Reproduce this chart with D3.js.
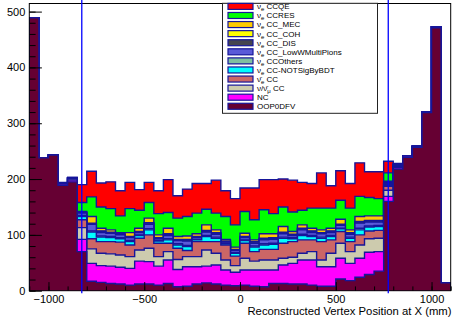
<!DOCTYPE html>
<html lang="en">
<head>
<meta charset="UTF-8">
<title>Reconstructed Vertex Position at X</title>
<script src="https://d3js.org/d3.v7.min.js"></script>
<style>
  body { margin: 0; background: #fff; }
  svg { display: block; font-family: "Liberation Sans", Arial, Helvetica, sans-serif; }
</style>
</head>
<body>
<div id="chart"></div>
<script>
// bin lower edges in mm (bins are 50 mm wide)
const binLow = [-1100, -1050, -1000, -950, -900, -850, -800, -750, -700, -650, -600, -550, -500, -450, -400,
  -350, -300, -250, -200, -150, -100, -50, 0, 50, 100, 150, 200, 250, 300, 350, 400, 450, 500, 550, 600,
  650, 700, 750, 800, 850, 900, 950, 1000, 1050];
const binWidth = 50;

// event counts per bin, one array per category
const ccqe = [0, 0, 0, 1, 0, 32, 46, 43, 48, 45, 47, 37, 36, 41, 59, 40, 49, 53, 46, 59, 46, 47, 42, 57, 54,
  61, 50, 57, 50, 44, 63, 40, 53, 44, 60, 46, 48, 21, 1, 1, 0, 0, 0, 0];
const ccres = [0, 0, 0, 1, 1, 16, 35, 38, 38, 30, 43, 32, 28, 38, 28, 33, 35, 37, 28, 30, 41, 40, 39, 36, 43,
  36, 35, 35, 26, 36, 39, 36, 34, 39, 36, 33, 31, 15, 1, 0, 0, 0, 0, 0];
const ccMec = [0, 0, 0, 0, 0, 2, 12, 5, 4, 2, 7, 6, 8, 5, 10, 5, 6, 5, 10, 5, 3, 4, 6, 3, 8,
  7, 10, 5, 6, 5, 5, 5, 9, 5, 9, 8, 8, 2, 0, 0, 0, 0, 0, 0];
const ccCoh = [0, 0, 0, 0, 0, 0, 1, 1, 1, 1, 1, 1, 1, 1, 1, 1, 1, 1, 1, 1, 1, 1, 1, 1, 1,
  1, 1, 1, 1, 1, 1, 1, 1, 1, 1, 1, 1, 1, 0, 0, 0, 0, 0, 0];
const ccDis = [0, 0, 0, 0, 0, 1, 1, 2, 1, 1, 1, 1, 2, 1, 2, 1, 2, 1, 2, 2, 1, 1, 1, 2, 2,
  2, 2, 1, 2, 2, 1, 2, 1, 2, 2, 2, 2, 1, 0, 0, 0, 0, 0, 0];
const ccLowW = [0, 0, 0, 0, 0, 4, 12, 6, 6, 5, 5, 4, 8, 3, 6, 6, 8, 3, 6, 5, 2, 4, 4, 5, 7,
  7, 6, 4, 8, 5, 6, 5, 5, 5, 9, 7, 6, 2, 1, 0, 0, 0, 0, 0];
const ccOthers = [0, 0, 0, 0, 0, 2, 2, 2, 2, 2, 2, 1, 2, 1, 2, 2, 2, 1, 2, 2, 1, 1, 1, 2, 2,
  2, 2, 2, 2, 2, 2, 2, 1, 2, 3, 2, 2, 1, 0, 0, 0, 0, 0, 0];
const ccNotSig = [0, 0, 0, 0, 1, 6, 12, 8, 7, 6, 6, 5, 9, 4, 6, 6, 7, 3, 9, 6, 2, 5, 5, 8, 8,
  9, 9, 5, 8, 6, 6, 6, 5, 6, 9, 7, 7, 2, 1, 0, 0, 0, 0, 0];
const antiNueCC = [0, 0, 0, 0, 1, 14, 18, 21, 22, 23, 21, 21, 24, 24, 15, 20, 11, 27, 15, 21, 27, 17, 27, 17, 19,
  19, 27, 28, 24, 21, 33, 24, 21, 18, 18, 14, 14, 7, 1, 0, 0, 0, 0, 0];
const numuCC = [0, 0, 0, 1, 2, 21, 26, 22, 22, 22, 21, 20, 24, 17, 15, 18, 18, 18, 29, 21, 18, 12, 21, 16, 18,
  18, 12, 11, 12, 15, 12, 24, 27, 21, 24, 24, 24, 11, 2, 0, 1, 0, 1, 0];
const nc = [0, 0, 0, 2, 3, 22, 32, 30, 31, 30, 30, 41, 40, 34, 42, 31, 35, 31, 30, 34, 27, 24, 27, 29, 30,
  24, 33, 37, 43, 45, 35, 35, 37, 31, 34, 40, 35, 9, 3, 2, 1, 1, 1, 0];
const oop = [489, 238, 243, 189, 195, 70, 17, 15, 13, 12, 10, 12, 12, 10, 13, 7, 8, 12, 14, 12, 10, 9, 10, 8, 7,
  13, 13, 12, 12, 10, 8, 8, 21, 18, 24, 29, 35, 160, 218, 239, 257, 319, 471, 14];

// legend labels, top to bottom
const labels = [
  ["\u03bd", "e", " CCQE"],
  ["\u03bd", "e", " CCRES"],
  ["\u03bd", "e", " CC_MEC"],
  ["\u03bd", "e", " CC_COH"],
  ["\u03bd", "e", " CC_DIS"],
  ["\u03bd", "e", " CC_LowWMultiPions"],
  ["\u03bd", "e", " CCOthers"],
  ["\u03bd", "e", " CC-NOTSigByBDT"],
  ["\u03bd\u0304", "e", " CC"],
  ["\u03bd/\u03bd\u0304", "\u03bc", " CC"],
  ["NC", "", ""],
  ["OOP0DFV", "", ""]
];
const colors = ["#ff0000", "#00ff00", "#ffcc00", "#ffff00", "#45454f", "#5a5ad8",
  "#80c0a0", "#00ffff", "#cc6666", "#cdcbae", "#ff00ff", "#660033"];
const seriesTopDown = [ccqe, ccres, ccMec, ccCoh, ccDis, ccLowW, ccOthers, ccNotSig, antiNueCC, numuCC, nc, oop];

const xTicksMajor = [-1000, -500, 0, 500, 1000];
const yTicksMajor = [0, 100, 200, 300, 400, 500];
const fvLines = [-826, 774];
const xTitle = "Reconstructed Vertex Position at X (mm)";

const W = 453, H = 322;
const svg = d3.select("#chart").append("svg").attr("width", W).attr("height", H);

const x = d3.scaleLinear().domain([-1100, 1100]).range([29.3, 450.7]);
const y = d3.scaleLinear().domain([0, 514.5]).range([290.7, 3.5]);

svg.append("defs").append("clipPath").attr("id", "frame")
  .append("rect").attr("x", x(-1100)).attr("y", y(514.5))
  .attr("width", x(1100) - x(-1100)).attr("height", y(0) - y(514.5));

// cumulative stack, bottom (oop) to top (ccqe)
const bottomUp = seriesTopDown.slice().reverse();
const cum = [];
let run = binLow.map(() => 0);
bottomUp.forEach(s => {
  run = run.map((v, i) => v + s[i]);
  cum.push(run);
});
const cumTopDown = cum.slice().reverse();

const area = d3.area().x(d => x(d[0])).y0(y(0)).y1(d => y(d[1]));
const line = d3.line().x(d => x(d[0])).y(d => y(d[1]));

const g = svg.append("g").attr("clip-path", "url(#frame)");
cumTopDown.forEach((c, k) => {
  const pts = [];
  binLow.forEach((lo, i) => { pts.push([lo, c[i]]); pts.push([lo + binWidth, c[i]]); });
  g.append("path").attr("d", area(pts)).attr("fill", colors[k]);
  const outline = [[binLow[0], 0]].concat(pts, [[binLow[binLow.length - 1] + binWidth, 0]]);
  g.append("path").attr("d", line(outline)).attr("fill", "none")
    .attr("stroke", "#16169a").attr("stroke-width", 1.4);
});

// axes, ticks inside the frame like ROOT
const yMinor = d3.range(0, 515, 20);
const xMinor = d3.range(-1100, 1101, 100);
svg.append("g").attr("transform", `translate(${x(-1100)},0)`)
  .call(d3.axisLeft(y).tickValues(yMinor).tickSize(-6.3).tickFormat(""))
  .call(a => a.select(".domain").remove());
svg.append("g").attr("transform", `translate(${x(-1100)},0)`)
  .call(d3.axisLeft(y).tickValues(yTicksMajor).tickSize(-12.6).tickPadding(4).tickFormat(d3.format("d")))
  .call(a => a.select(".domain").remove())
  .call(a => a.selectAll("text").attr("font-size", 11).attr("fill", "#000"));
svg.append("g").attr("transform", `translate(0,${y(0)})`)
  .call(d3.axisBottom(x).tickValues(xMinor).tickSize(-4.3).tickFormat(""))
  .call(a => a.select(".domain").remove());
svg.append("g").attr("transform", `translate(0,${y(0)})`)
  .call(d3.axisBottom(x).tickValues(xTicksMajor).tickSize(-8.6).tickPadding(4.5).tickFormat(d3.format("d")))
  .call(a => a.select(".domain").remove())
  .call(a => a.selectAll("text").attr("font-size", 11).attr("fill", "#000"));
svg.selectAll(".tick line").attr("stroke", "#000");
svg.selectAll("g").attr("font-family", null);

// frame
svg.append("rect").attr("x", x(-1100)).attr("y", y(514.5))
  .attr("width", x(1100) - x(-1100)).attr("height", y(0) - y(514.5))
  .attr("fill", "none").attr("stroke", "#000").attr("stroke-width", 1);

// fiducial volume lines
fvLines.forEach(v => {
  svg.append("line").attr("x1", x(v)).attr("x2", x(v))
    .attr("y1", y(-4.5)).attr("y2", y(530))
    .attr("stroke", "#0000ff").attr("stroke-width", 1.3);
});

svg.append("text").attr("x", 451.5).attr("y", 315.3).attr("text-anchor", "end")
  .attr("font-size", 11.3).text(xTitle);

// legend
const leg = svg.append("g");
leg.append("rect").attr("x", 222.5).attr("y", 3.3).attr("width", 155).attr("height", 110)
  .attr("fill", "#fff").attr("stroke", "#222").attr("stroke-width", 1);
labels.forEach((lab, i) => {
  const cy = 6.4 + i * 9.08;
  leg.append("rect").attr("x", 228).attr("y", cy - 3).attr("width", 25).attr("height", 6)
    .attr("fill", colors[i]).attr("stroke", "#16169a").attr("stroke-width", 1.2);
  const t = leg.append("text").attr("x", 257).attr("y", cy + 2.9).attr("font-size", 8);
  t.append("tspan").text(lab[0]);
  if (lab[1]) t.append("tspan").attr("font-size", 6).attr("dy", 2).text(lab[1]);
  t.append("tspan").attr("dy", lab[1] ? -2 : 0).text(lab[2]);
});
</script>
</body>
</html>
